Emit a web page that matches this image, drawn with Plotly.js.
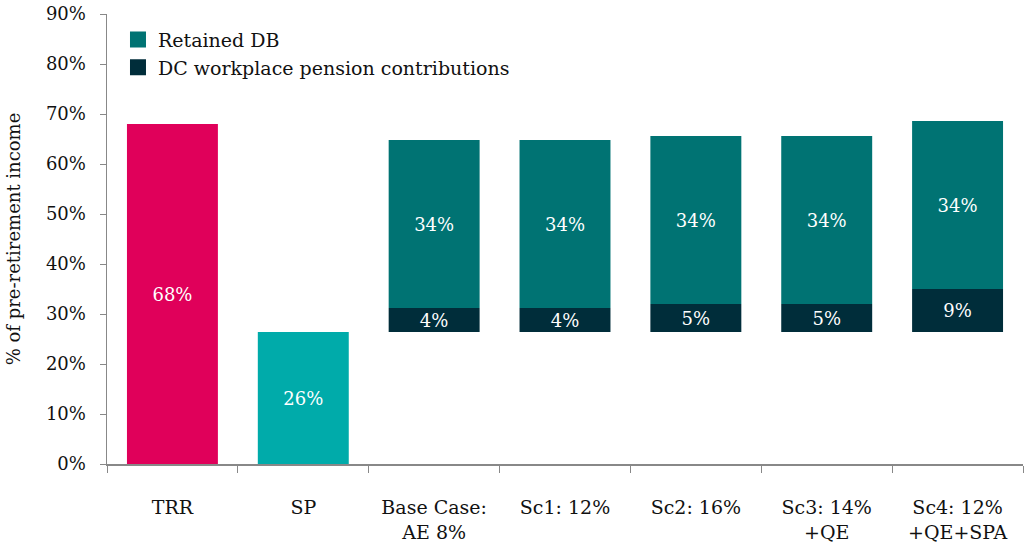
<!DOCTYPE html>
<html><head><meta charset="utf-8">
<script src="https://cdn.plot.ly/plotly-3.0.1.min.js"></script>
<style>html,body{margin:0;padding:0;background:#fff}#chart{width:1024px;height:545px}</style>
</head><body><div id="chart"></div>
<script>
// ---- data ----
const categories = ["TRR", "SP", "Base Case:<br>AE 8%", "Sc1: 12%", "Sc2: 16%", "Sc3: 14%<br>+QE", "Sc4: 12%<br>+QE+SPA"];
const totalValues = [68.0, 26.4, null, null, null, null, null];
const totalLabels = ["68%", "26%", "", "", "", "", ""];
const stateBase = [null, null, 26.4, 26.4, 26.4, 26.4, 26.4];
const dcValues = [null, null, 4.8, 4.8, 5.6, 5.6, 8.6];
const dcLabels = ["", "", "4%", "4%", "5%", "5%", "9%"];
const dbValues = [null, null, 33.6, 33.6, 33.6, 33.6, 33.6];
const dbLabels = ["", "", "34%", "34%", "34%", "34%", "34%"];
const yTickVals = [0, 10, 20, 30, 40, 50, 60, 70, 80, 90];
const yTickText = ["0%", "10%", "20%", "30%", "40%", "50%", "60%", "70%", "80%", "90%"];
const legendNames = ["Retained DB", "DC workplace pension contributions"];

// ---- style ----
const FONT = "'DejaVu Serif', Georgia, serif";
const totalColors = ["#E0005A", "#00ABAA", "#000", "#000", "#000", "#000", "#000"];
const dbColor = "#007373";
const dcColor = "#002D3A";
const dbBase = stateBase.map((b, i) => (b == null ? null : b + dcValues[i]));

const common = {
  type: "bar",
  x: categories,
  textposition: "inside",
  insidetextanchor: "middle",
  constraintext: "none",
  textfont: {family: FONT, size: 18, color: "#ffffff"},
  hoverinfo: "skip",
  showlegend: false
};

const traces = [
  Object.assign({}, common, {
    name: "Total", y: totalValues, text: totalLabels,
    marker: {color: totalColors}
  }),
  Object.assign({}, common, {
    name: legendNames[0], y: dbValues, base: dbBase, text: dbLabels,
    marker: {color: dbColor}
  }),
  Object.assign({}, common, {
    name: legendNames[1], y: dcValues, base: stateBase, text: dcLabels,
    marker: {color: dcColor}
  }),
  // legend-only entries with larger square swatches
  {type: "scatter", mode: "markers", x: [null], y: [null], name: legendNames[0],
   marker: {symbol: "square", size: 20, color: dbColor}, hoverinfo: "skip", showlegend: true},
  {type: "scatter", mode: "markers", x: [null], y: [null], name: legendNames[1],
   marker: {symbol: "square", size: 20, color: dcColor}, hoverinfo: "skip", showlegend: true}
];

const layout = {
  width: 1024, height: 545,
  margin: {l: 107, r: 1, t: 14, b: 81},
  paper_bgcolor: "#ffffff", plot_bgcolor: "#ffffff",
  font: {family: FONT, size: 18, color: "#111"},
  barmode: "overlay",
  bargap: 0.305,
  showlegend: true,
  legend: {
    x: 0.012, y: 0.985, xanchor: "left", yanchor: "top",
    bgcolor: "rgba(0,0,0,0)", traceorder: "normal",
    font: {family: FONT, size: 19, color: "#111"},
    itemclick: false
  },
  xaxis: {
    type: "category",
    categoryorder: "array", categoryarray: categories,
    showgrid: false, zeroline: false,
    showline: true, linecolor: "#888", linewidth: 1.5,
    ticks: "outside", tickson: "boundaries", ticklen: 7, tickcolor: "#888", tickwidth: 1,
    ticklabelstandoff: 26,
    tickfont: {family: FONT, size: 19, color: "#111"},
    fixedrange: true
  },
  yaxis: {
    range: [0, 90],
    tickvals: yTickVals, ticktext: yTickText,
    showgrid: false, zeroline: false,
    showline: true, linecolor: "#888", linewidth: 1.5,
    ticks: "outside", ticklen: 6, tickcolor: "#888", tickwidth: 1,
    ticklabelstandoff: 10,
    tickfont: {family: FONT, size: 18, color: "#111"},
    title: {text: "% of pre-retirement income", font: {family: FONT, size: 18, color: "#111"}, standoff: 20},
    fixedrange: true
  }
};

Plotly.newPlot("chart", traces, layout, {displayModeBar: false, staticPlot: true});
</script>
</body></html>
